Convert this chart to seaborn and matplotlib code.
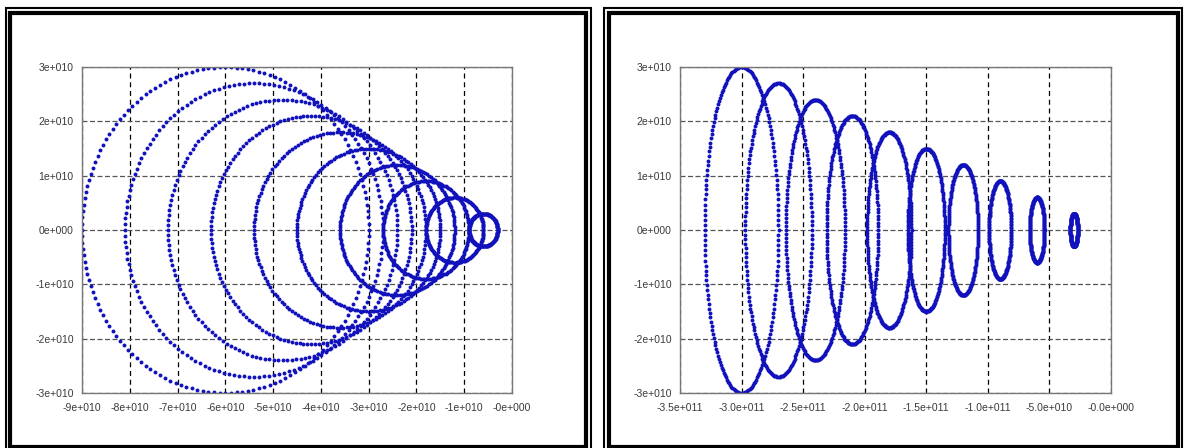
import numpy as np
import pandas as pd
import matplotlib
matplotlib.use('Agg')
import matplotlib.pyplot as plt
import seaborn as sns
from matplotlib.patches import Rectangle

# wavefront radii (same set in both panels)
radii = [0.3e10, 0.6e10, 0.9e10, 1.2e10, 1.5e10, 1.8e10, 2.1e10, 2.4e10, 2.7e10, 3.0e10]
# wavefront centres, left panel (slow source) and right panel (fast source)
centres_left = [-0.6e10, -1.2e10, -1.8e10, -2.4e10, -3.0e10, -3.6e10, -4.2e10, -4.8e10, -5.4e10, -6.0e10]
centres_right = [-0.3e11, -0.6e11, -0.9e11, -1.2e11, -1.5e11, -1.8e11, -2.1e11, -2.4e11, -2.7e11, -3.0e11]
# dots drawn on each wavefront
n_left = 160
n_right = 200

left_xticks = [-9e10, -8e10, -7e10, -6e10, -5e10, -4e10, -3e10, -2e10, -1e10, 0]
left_xlabels = ['-9e+010', '-8e+010', '-7e+010', '-6e+010', '-5e+010',
                '-4e+010', '-3e+010', '-2e+010', '-1e+010', '-0e+000']
right_xticks = [-3.5e11, -3.0e11, -2.5e11, -2.0e11, -1.5e11, -1.0e11, -0.5e11, 0]
right_xlabels = ['-3.5e+011', '-3.0e+011', '-2.5e+011', '-2.0e+011',
                 '-1.5e+011', '-1.0e+011', '-5.0e+010', '-0.0e+000']
yticks = [-3e10, -2e10, -1e10, 0, 1e10, 2e10, 3e10]
ylabels = ['-3e+010', '-2e+010', '-1e+010', '0e+000', '1e+010', '2e+010', '3e+010']


def wavefronts(centres, radii, n):
    t = np.linspace(0, 2 * np.pi, n, endpoint=False)
    parts = []
    for c, r in zip(centres, radii):
        parts.append(pd.DataFrame({'x': c + r * np.cos(t), 'y': r * np.sin(t)}))
    return pd.concat(parts, ignore_index=True)


df_left = wavefronts(centres_left, radii, n_left)
df_right = wavefronts(centres_right, radii, n_right)

sns.set_style('white')
plt.rcParams['font.family'] = ['Liberation Sans', 'DejaVu Sans']

W, H = 1186, 448
fig = plt.figure(figsize=(W / 100, H / 100), dpi=100)


def px_rect(x0, y0, x1, y1, lw):
    # rectangle given in image pixels (top-left origin)
    fig.patches.append(Rectangle((x0 / W, 1 - y1 / H), (x1 - x0) / W, (y1 - y0) / H,
                                 transform=fig.transFigure, fill=False,
                                 edgecolor='black', linewidth=lw))


# double frames around both panels
px_rect(5.5, 8, 590.5, 452, 1.5)
px_rect(10, 13, 585.5, 446.5, 3.0)
px_rect(604, 8, 1182, 452, 1.5)
px_rect(609, 13, 1177.5, 446.5, 3.0)

blue = '#1212bc'
panels = [
    (82, 512, df_left, left_xticks, left_xlabels, (-9e10, 0), 0.5e10),
    (680, 1111, df_right, right_xticks, right_xlabels, (-3.5e11, 0), 2.5e10),
]

for x0, x1, df, xt, xl, xlim, xminor in panels:
    ax = fig.add_axes([x0 / W, 1 - 393 / H, (x1 - x0) / W, (393 - 67) / H])
    sns.scatterplot(data=df, x='x', y='y', ax=ax, color=blue, s=8,
                    linewidth=0, legend=False, zorder=3)
    ax.set_xlim(*xlim)
    ax.set_ylim(-3e10, 3e10)
    ax.set_xticks(xt)
    ax.set_xticklabels(xl)
    ax.set_yticks(yticks)
    ax.set_yticklabels(ylabels)
    ax.set_xticks(np.arange(xlim[0], xlim[1] + 1, xminor), minor=True)
    ax.set_yticks(np.arange(-3e10, 3e10 + 1, 0.25e10), minor=True)
    ax.set_xlabel('')
    ax.set_ylabel('')
    for v in xt:
        ax.axvline(v, color='black', linewidth=0.9, linestyle=(0, (4, 3)), zorder=1)
    for v in yticks:
        ax.axhline(v, color='#555555', linewidth=0.9, linestyle=(0, (4, 2)), zorder=1)
    for sp in ax.spines.values():
        sp.set_color('#777777')
        sp.set_linewidth(1.0)
        sp.set_zorder(4)
    ax.tick_params(which='major', direction='out', length=4, width=0.8,
                   color='#666666', labelsize=7.5, labelcolor='#3a3a3a', pad=2)
    ax.tick_params(which='minor', direction='out', length=2.2, width=0.8,
                   color='#666666')
    ax.tick_params(axis='x', which='major', pad=3)

fig.savefig('out.png', dpi=100)
